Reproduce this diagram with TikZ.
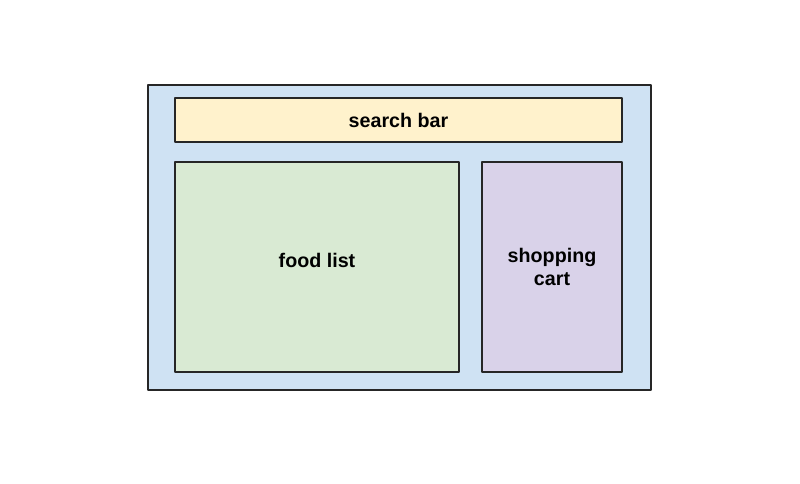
\documentclass[tikz,border=0pt]{standalone}
\usepackage{fontspec}
\setmainfont{Liberation Sans}
\definecolor{nenxanh}{HTML}{CFE2F3}
\definecolor{nenvang}{HTML}{FFF2CC}
\definecolor{nenluc}{HTML}{D9EAD3}
\definecolor{nentim}{HTML}{D9D2E9}
\tikzset{hop/.style={draw=black!85,line width=0.6pt,rectangle,inner sep=0pt,align=center,font=\bfseries\fontsize{11.2}{13.2}\selectfont},
         chu/.style={inner sep=0pt,align=center,font=\bfseries\fontsize{11.2}{13.2}\selectfont}}
\begin{document}
\begin{tikzpicture}[line join=round]
                %%Khung anh
                \useasboundingbox (0,0) rectangle (16,9.66);
                %%Cac hop
                \node[hop,fill=nenxanh,minimum width=10.06cm,minimum height=6.1cm] (trang) at (7.99,4.91) {};
                \node[hop,fill=nenvang,minimum width=8.94cm,minimum height=0.88cm] (timkiem) at (7.97,7.26) {search bar};
                \node[hop,fill=nenluc,minimum width=5.68cm,minimum height=4.2cm] (monan) at (6.34,4.32) {};
                \node[chu] (tenmonan) at ([yshift=0.14cm]monan.center) {food list};
                \node[hop,fill=nentim,minimum width=2.8cm,minimum height=4.2cm] (giohang) at (11.04,4.32) {shopping\\cart};
            \end{tikzpicture}
\end{document}
